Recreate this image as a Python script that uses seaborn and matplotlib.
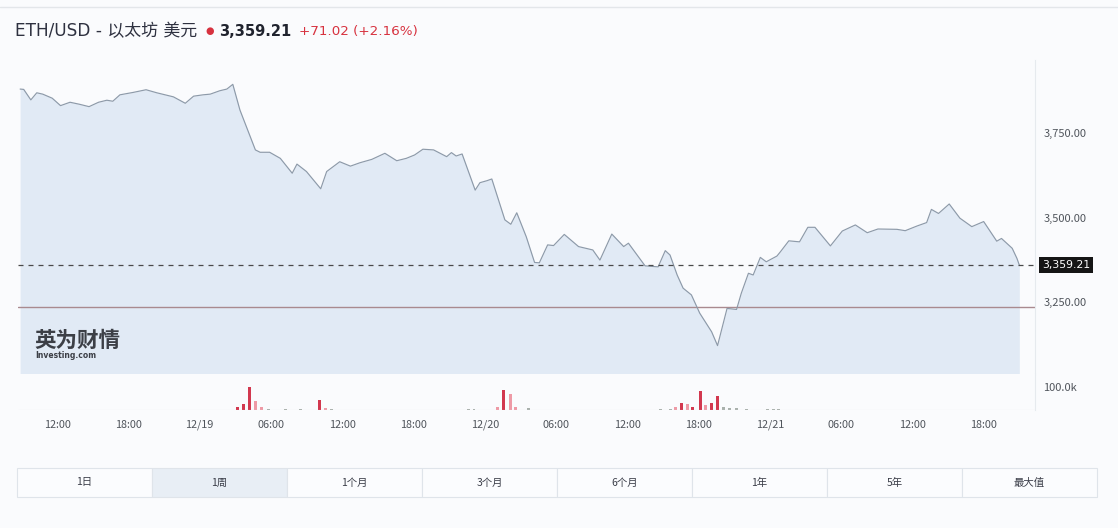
import numpy as np
import pandas as pd
import matplotlib
matplotlib.use("Agg")
import matplotlib.pyplot as plt
import matplotlib.transforms as mtransforms
from matplotlib.patches import Rectangle
import seaborn as sns

# ---------------- data ----------------
# hours counted from 12/18 00:00
hours = [8.9, 9.2, 9.8, 10.3, 10.8, 11.6, 12.3, 13.1, 13.9, 14.7, 15.5, 16.2, 16.7, 17.3,
         18.4, 19.5, 20.4, 21.8, 22.8, 23.5, 24.3, 24.9, 25.7, 26.3, 26.8, 27.4, 28.7, 29.1,
         29.9, 30.8, 31.8, 32.2, 33.0, 34.2, 34.7, 35.8, 36.7, 37.5, 38.5, 39.6, 40.6, 41.4,
         42.1, 42.8, 43.7, 44.8, 45.2, 45.6, 46.1, 47.2, 47.6, 48.2, 48.6, 49.7, 50.2, 50.7,
         51.5, 52.2, 52.6, 53.3, 53.8, 54.7, 55.9, 57.1, 57.7, 58.7, 59.7, 60.1, 61.5, 62.6,
         63.2, 63.6, 64.2, 64.7, 65.4, 66.1, 67.1, 67.6, 68.4, 69.2, 69.6, 70.2, 70.6, 71.2,
         71.7, 72.6, 72.9, 73.6, 74.5, 75.2, 75.8, 77.1, 78.1, 79.2, 80.2, 81.1, 82.7, 83.4,
         84.4, 85.2, 85.6, 86.2, 87.1, 88.0, 89.0, 90.0, 91.1, 91.5, 92.4, 92.8, 93.0]
prices = [3880, 3879, 3848, 3869, 3865, 3853, 3831, 3841, 3835, 3828, 3841, 3847, 3844, 3863,
          3870, 3878, 3869, 3857, 3838, 3859, 3863, 3865, 3875, 3880, 3894, 3818, 3700, 3693,
          3693, 3675, 3631, 3658, 3636, 3585, 3636, 3665, 3652, 3662, 3672, 3690, 3668, 3675,
          3685, 3702, 3700, 3680, 3692, 3682, 3688, 3581, 3603, 3609, 3614, 3493, 3480, 3514,
          3443, 3367, 3366, 3419, 3417, 3450, 3414, 3404, 3374, 3451, 3414, 3424, 3357, 3354,
          3402, 3389, 3330, 3291, 3271, 3217, 3162, 3121, 3231, 3228, 3276, 3335, 3330, 3382,
          3369, 3386, 3399, 3431, 3428, 3471, 3471, 3416, 3460, 3478, 3455, 3466, 3465, 3461,
          3475, 3485, 3524, 3512, 3540, 3498, 3473, 3488, 3430, 3438, 3409, 3379, 3359.21]

vol_hours = [9.7, 12.3, 13.1, 14.8, 27.2, 27.7, 28.2, 28.7, 29.2, 29.8, 31.2, 32.5, 34.1,
             34.6, 35.1, 46.6, 47.1, 49.1, 49.6, 50.2, 50.6, 51.7, 62.8, 63.6, 64.1, 64.6,
             65.1, 65.5, 66.2, 66.6, 67.1, 67.6, 68.1, 68.6, 69.2, 70.0, 71.8, 72.3, 72.7]
vol_values = [2, 2, 2, 2, 12, 26, 100, 37, 14, 5, 4, 3, 45,
              10, 5, 5, 5, 14, 87, 70, 15, 8, 3, 3, 14, 30,
              25, 12, 81, 20, 30, 62, 12, 10, 8, 6, 3, 3, 3]
vol_kind = ["g", "g", "g", "g", "r", "r", "r", "p", "p", "g", "g", "g", "r",
            "p", "g", "g", "g", "p", "r", "p", "p", "g", "g", "g", "p", "r",
            "p", "r", "r", "p", "r", "r", "g", "g", "g", "g", "g", "g", "g"]

x_tick_hours = [12, 18, 24, 30, 36, 42, 48, 54, 60, 66, 72, 78, 84, 90]
x_tick_labels = ["12:00", "18:00", "12/19", "06:00", "12:00", "18:00", "12/20",
                 "06:00", "12:00", "18:00", "12/21", "06:00", "12:00", "18:00"]
y_ticks = [3250, 3500, 3750]
y_tick_labels = ["3,250.00", "3,500.00", "3,750.00"]
last_price = 3359.21
ref_level = 3236
vol_tick = 100
vol_tick_label = "100.0k"
range_buttons = ["1日", "1周", "1个月", "3个月", "6个月", "1年", "5年", "最大值"]

title_main = "ETH/USD - 以太坊 美元"
title_price = "3,359.21"
title_change = "+71.02 (+2.16%)"

# ---------------- style ----------------
sns.set_theme(style="white")
FONTS = ["Noto Sans CJK SC", "DejaVu Sans"]
plt.rcParams["font.family"] = FONTS

W, H = 1118, 528
BG = "#fafbfd"
fig = plt.figure(figsize=(W / 100, H / 100), dpi=100, facecolor=BG)


def fx(px):
    return px / W


def fy(py):
    return 1 - py / H


xlim = (8.72, 94.32)
ylim = (3037, 3966)
LABEL_C = "#50555c"

# price axes
ax = fig.add_axes([fx(18), fy(374), fx(1035) - fx(18), fy(60) - fy(374)])
ax.set_facecolor(BG)
df = pd.DataFrame({"hours": hours, "price": prices})
ax.fill_between(df["hours"], df["price"], ylim[0], color="#e1eaf5", lw=0, zorder=1)
sns.lineplot(data=df, x="hours", y="price", ax=ax, color="#8d9aa9", lw=0.85, zorder=3)
ax.axhline(last_price, color="#4a4a4a", lw=0.9, ls=(0, (4, 4)), zorder=4)
ax.axhline(ref_level, color="#a98a8f", lw=1.0, zorder=2)
ax.set_xlim(*xlim)
ax.set_ylim(*ylim)
ax.set_xlabel("")
ax.set_ylabel("")
ax.set_xticks([])
ax.yaxis.tick_right()
ax.set_yticks(y_ticks)
ax.set_yticklabels(y_tick_labels)
ax.tick_params(axis="y", length=0, pad=6, labelsize=8, labelcolor=LABEL_C)
for s in ax.spines.values():
    s.set_visible(False)
ax.spines["right"].set_visible(True)
ax.spines["right"].set_color("#e6eaee")
ax.spines["right"].set_linewidth(0.8)

trans = mtransforms.blended_transform_factory(ax.transAxes, ax.transData)
ax.text(1.007, last_price, f"{last_price:,.2f}", transform=trans, ha="left", va="center",
        fontsize=7.8, color="white", family=["DejaVu Sans"],
        bbox=dict(boxstyle="square,pad=0.3", fc="#151515", ec="none"), zorder=6)

# watermark
fig.text(fx(34), fy(340), "英为财情", fontsize=15.5, fontweight="bold", color="#3c3f46",
         ha="left", va="center", family=FONTS)
fig.text(fx(35), fy(356), "Investing.com", fontsize=5.5, fontweight="bold", color="#3c3f46",
         ha="left", va="center", family=["DejaVu Sans"])

# volume axes
axv = fig.add_axes([fx(18), fy(410), fx(1035) - fx(18), fy(374) - fy(410)])
axv.set_facecolor(BG)
colors = {"r": "#d2384f", "p": "#ee9aa6", "g": "#a9b1ac"}
axv.bar(vol_hours, vol_values, width=0.25, color=[colors[k] for k in vol_kind], lw=0)
axv.axhline(0, color="#e2e5e8", lw=0.8)
axv.set_xlim(*xlim)
axv.set_ylim(0, 156)
axv.yaxis.tick_right()
axv.set_yticks([vol_tick])
axv.set_yticklabels([vol_tick_label])
axv.set_xticks(x_tick_hours)
axv.set_xticklabels(x_tick_labels)
axv.tick_params(axis="y", length=0, pad=6, labelsize=8, labelcolor=LABEL_C)
axv.tick_params(axis="x", length=0, pad=7, labelsize=7.8, labelcolor=LABEL_C)
for s in axv.spines.values():
    s.set_visible(False)
axv.spines["right"].set_visible(True)
axv.spines["right"].set_color("#e6eaee")
axv.spines["right"].set_linewidth(0.8)

# title row
fig.add_artist(plt.Line2D([0, 1], [fy(7), fy(7)], color="#e3e6ea", lw=1))
fig.text(fx(15), fy(31), title_main, fontsize=12.2, color="#2e3140", ha="left", va="center",
         family=["DejaVu Sans", "Noto Sans CJK SC"])
fig.text(fx(210), fy(31), "●", fontsize=7, color="#d7323f", ha="center", va="center",
         family=["DejaVu Sans"])
fig.text(fx(219), fy(31), title_price, fontsize=10.5, fontweight="bold", color="#20232e",
         ha="left", va="center", family=["DejaVu Sans"])
fig.text(fx(299), fy(31), title_change, fontsize=9.7, color="#d7323f", ha="left",
         va="center", family=["DejaVu Sans"])

# range buttons
bx0, bx1, by0, by1 = 17, 1097, 468, 497
bw = (bx1 - bx0) / len(range_buttons)
for i, lab in enumerate(range_buttons):
    x0 = bx0 + i * bw
    fc = "#e8eef5" if i == 1 else "#fbfcfe"
    fig.add_artist(Rectangle((fx(x0), fy(by1)), fx(bw), fy(by0) - fy(by1),
                             transform=fig.transFigure, fc=fc, ec="#dfe4ea", lw=0.8))
    fig.text(fx(x0 + bw / 2), fy((by0 + by1) / 2), lab, fontsize=7.5, color="#3a3d48",
             ha="center", va="center", family=FONTS)

fig.savefig("out.png", dpi=100, facecolor=BG)
